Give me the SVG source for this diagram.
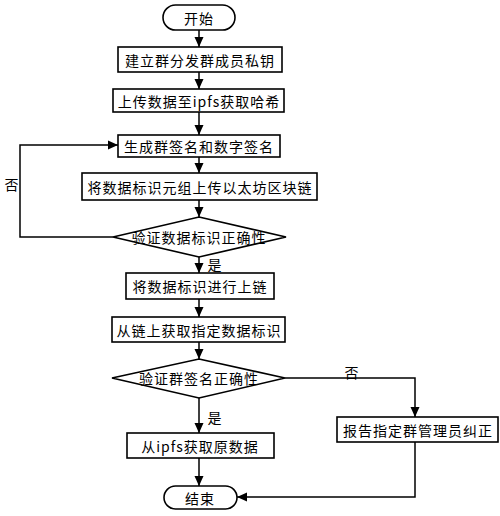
<svg xmlns="http://www.w3.org/2000/svg" width="500" height="516" viewBox="0 0 500 516">
<defs>
<marker id="ah" markerUnits="userSpaceOnUse" markerWidth="10" markerHeight="10" viewBox="0 0 10 10" refX="10" refY="5" orient="auto">
<path d="M0,0.5 L10,5 L0,9.5 Z" fill="#000"/>
</marker>
<style>
.b{fill:#fff;stroke:#000;stroke-width:1.6}
.t{font-family:"Noto Sans CJK SC","Liberation Serif",serif;font-size:14px;letter-spacing:1px;text-anchor:middle;dominant-baseline:central;fill:#000}
.c{fill:none;stroke:#000;stroke-width:1.5;marker-end:url(#ah)}
</style>
</defs>
<rect width="500" height="516" fill="#fff"/>
<g id="connectors">
<path class="c" d="M199,30 V47"/>
<path class="c" d="M199,72 V89"/>
<path class="c" d="M199,112 V135"/>
<path class="c" d="M199,157 V173"/>
<path class="c" d="M199,200 V217"/>
<path class="c" d="M199,257 V273"/>
<path class="c" d="M199,299 V317"/>
<path class="c" d="M199,342 V359"/>
<path class="c" d="M199,398 V433"/>
<path class="c" d="M199,458 V486"/>
<path class="c" d="M113,237 H20 V145 H118"/>
<path class="c" d="M285,378 H415 V417"/>
<path class="c" d="M415,442 V497 H237"/>
<text class="t" x="12" y="184">否</text>
<text class="t" x="215" y="264">是</text>
<text class="t" x="352" y="372">否</text>
<text class="t" x="215" y="417">是</text>
</g>
<g id="start"><rect class="b" x="163" y="5" width="72" height="25" rx="12.5"/><text class="t" x="199" y="17.5">开始</text></g>
<g id="n1"><rect class="b" x="118" y="47" width="164" height="25"/><text class="t" x="200" y="59.5">建立群分发群成员私钥</text></g>
<g id="n2"><rect class="b" x="113" y="89" width="171" height="23"/><text class="t" x="199" y="100.5">上传数据至ipfs获取哈希</text></g>
<g id="n3"><rect class="b" x="118" y="135" width="162" height="22"/><text class="t" x="199" y="146">生成群签名和数字签名</text></g>
<g id="n4"><rect class="b" x="82" y="173" width="235" height="27"/><text class="t" x="200" y="186.5">将数据标识元组上传以太坊区块链</text></g>
<g id="d1"><polygon class="b" points="199,217 286,237 199,257 113,237"/><text class="t" x="199" y="237">验证数据标识正确性</text></g>
<g id="n5"><rect class="b" x="126" y="273" width="148" height="26"/><text class="t" x="200" y="286">将数据标识进行上链</text></g>
<g id="n6"><rect class="b" x="112" y="317" width="173" height="25"/><text class="t" x="199" y="329.5">从链上获取指定数据标识</text></g>
<g id="d2"><polygon class="b" points="199,359 285,378 199,398 112,378"/><text class="t" x="199" y="378">验证群签名正确性</text></g>
<g id="n7"><rect class="b" x="337" y="417" width="161" height="25"/><text class="t" x="418" y="429.5">报告指定群管理员纠正</text></g>
<g id="n8"><rect class="b" x="127" y="433" width="147" height="25"/><text class="t" x="200" y="445.5">从ipfs获取原数据</text></g>
<g id="end"><rect class="b" x="164" y="486" width="73" height="23" rx="11.5"/><text class="t" x="200" y="497.5">结束</text></g>
</svg>
